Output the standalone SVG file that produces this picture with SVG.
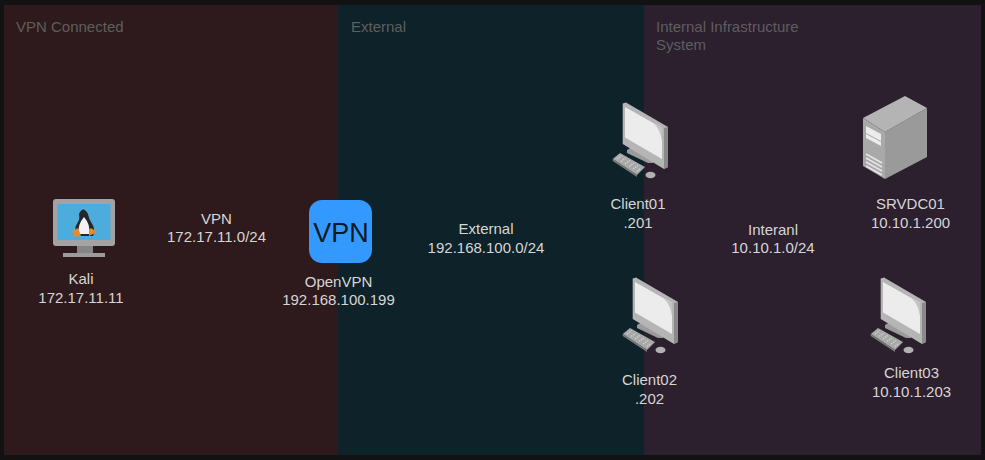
<svg xmlns="http://www.w3.org/2000/svg" width="985" height="460" viewBox="0 0 985 460">
<style>
text{font-family:"Liberation Sans",Arial,sans-serif;font-size:15px}
.l{fill:#d6d6d6;text-anchor:middle}
.t{fill:#5e5e5e}
</style>
<defs>
<g id="pc">
<path d="M0.700 56 L8 50 L33 64 L25 72 Z" fill="#a8a8a8"/>
<path d="M0.700 56 L25 72 L25 74 L0.700 58 Z" fill="#7a7a7a"/>
<path d="M5 56 L9.500 52.500 M9 58.500 L13.500 55 M13 61 L18 57.500 M17 63.500 L22 60 M21 66 L26 62.500 M25 68.500 L29 65" stroke="#cfcfcf" stroke-width="1.500" stroke-dasharray="1.500 1" fill="none"/>
<path d="M15 47 L20 44 L41 56 L41 60 L36 60 L15 50 Z" fill="#9b9b9b"/>
<path d="M10.700 0.500 L14 -0.500 L56 24 L56 64 L52 66 L10.700 41 Z" fill="#b5b5b5"/>
<path d="M52 25 L56 24 L56 64 L52 66 Z" fill="#8a8a8a"/>
<path d="M13 4 L50 25 L50 56 L13 34.500 Z" fill="#ececec"/>
<path d="M42 21 L50 25 L50 38 Q48 26 42 21 Z" fill="#c4c4c4"/>
<ellipse cx="38.500" cy="72" rx="5" ry="3.200" fill="#b1b1b1"/>
</g>
</defs>
<rect width="985" height="460" fill="#121212"/>
<g id="zones">
<rect id="zone-vpn" x="4" y="5" width="334" height="450" fill="#2e1a1c"/>
<rect id="zone-external" x="338" y="5" width="306" height="450" fill="#0e2229"/>
<rect id="zone-internal" x="644" y="5" width="337" height="450" fill="#2c1f2e"/>
<text class="t" x="16" y="32">VPN Connected</text>
<text class="t" x="351" y="32">External</text>
<text class="t" x="656" y="32">Internal Infrastructure</text>
<text class="t" x="656" y="50">System</text>
</g>
<g id="connectors"></g>
<g id="kali">
<rect x="77" y="246" width="16" height="7" fill="#858585"/>
<rect x="63" y="253" width="42" height="4" fill="#9b9b9b"/>
<rect x="53" y="199" width="62" height="47" rx="3" fill="#a3a3a3"/>
<rect x="57.500" y="204" width="53" height="36" fill="#4cacdc"/>
<path d="M79 214 Q83 205 88 214 Q89 219 91 222 Q96 229 93 236 H77 Q73 229 78 222 Q80 219 79 214 Z" fill="#24262b"/>
<path d="M84 217 Q91 225 89 234 H79 Q77 225 84 217 Z" fill="#f2f2f2"/>
<path d="M72 231 L78 228 L81 236 L75 237 Z M89 230 L91 228 L97 232 L89 236 Z" fill="#e68a2e"/>
<text class="l" x="81" y="284">Kali</text>
<text class="l" x="81" y="303">172.17.11.11</text>
</g>
<g id="vpn-label">
<text class="l" x="216.500" y="224">VPN</text>
<text class="l" x="216.500" y="242">172.17.11.0/24</text>
</g>
<g id="openvpn">
<rect x="309" y="200" width="63" height="63" rx="13" fill="#3399ff"/>
<text x="341" y="242" text-anchor="middle" style="font-size:27px" fill="#101820">VPN</text>
<text class="l" x="338.500" y="287">OpenVPN</text>
<text class="l" x="338.500" y="305">192.168.100.199</text>
</g>
<g id="external-label">
<text class="l" x="486" y="234">External</text>
<text class="l" x="486" y="253">192.168.100.0/24</text>
</g>
<g id="client01">
<use href="#pc" x="612" y="103"/>
<text class="l" x="638" y="209">Client01</text>
<text class="l" x="638" y="228">.201</text>
</g>
<g id="client02">
<use href="#pc" x="622" y="278"/>
<text class="l" x="649.500" y="385">Client02</text>
<text class="l" x="649.500" y="404">.202</text>
</g>
<g id="internal-label">
<text class="l" x="773" y="235">Interanl</text>
<text class="l" x="773" y="253">10.10.1.0/24</text>
</g>
<g id="srvdc01">
<path d="M885 132 L927 108 L927 157 L885 179 Z" fill="#9a9a9a"/>
<path d="M863 118 L905 96 L927 108 L885 132 Z" fill="#b4b4b4"/>
<path d="M863 118 L885 132 L885 179 L863 166 Z" fill="#a9a9a9"/>
<path d="M866 126 L881 134 L881 141 L866 133 Z M866 134 L881 142 L881 146 L866 138 Z" fill="#ececec"/>
<path d="M866 154 L882 163 M866 158 L882 167 M866 162 L882 171 M866 166 L882 175" stroke="#e6e6e6" stroke-width="1.500" fill="none"/>
<text class="l" x="910.500" y="209">SRVDC01</text>
<text class="l" x="910.500" y="228">10.10.1.200</text>
</g>
<g id="client03">
<use href="#pc" x="870" y="278"/>
<text class="l" x="911.500" y="378">Client03</text>
<text class="l" x="911.500" y="397">10.10.1.203</text>
</g>
</svg>
